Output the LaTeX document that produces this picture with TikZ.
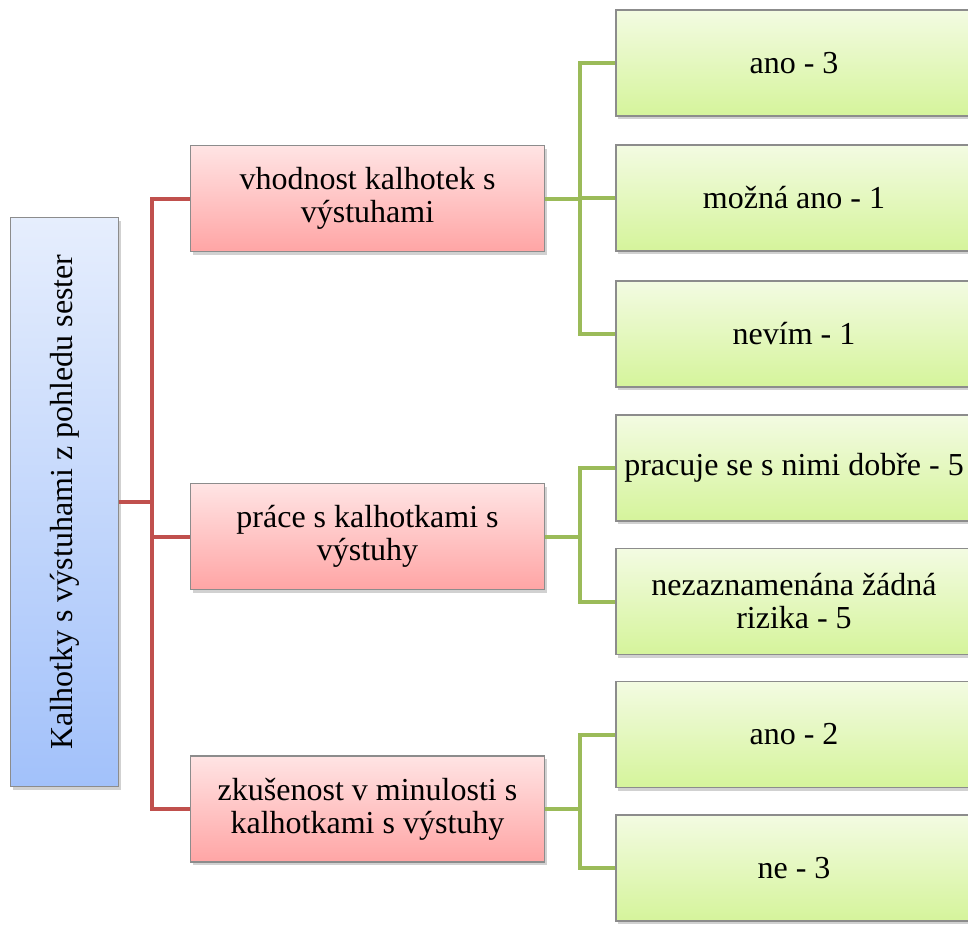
\documentclass[tikz,border=0pt]{standalone}
\usepackage{fontspec}
\setmainfont{Liberation Serif}
\newfontfamily\timesface{Liberation Serif}
\usetikzlibrary{shadows}
\definecolor{redline}{HTML}{C0504D}
\definecolor{greenline}{HTML}{9BBB59}
\definecolor{boxedge}{HTML}{8C8C8C}
\definecolor{pinktop}{HTML}{FFE4E4}
\definecolor{pinkbot}{HTML}{FFA5A5}
\definecolor{limetop}{HTML}{F3FBE2}
\definecolor{limebot}{HTML}{D5F49B}
\definecolor{bluetop}{HTML}{E6EEFD}
\definecolor{bluebot}{HTML}{A2C1FA}

\begin{document}
\begin{tikzpicture}[x=1pt,y=-1pt,
  box/.style={draw=boxedge,line width=1.2pt,inner sep=2pt,align=center,font=\timesface\fontsize{32}{33}\selectfont,
    drop shadow={shadow xshift=2pt,shadow yshift=-3pt,opacity=.3,fill=black!60}},
  topic/.style={box,top color=bluetop,bottom color=bluebot,minimum width=108pt,minimum height=569pt},
  cat/.style={box,top color=pinktop,bottom color=pinkbot,minimum width=354pt,minimum height=106pt},
  leaf/.style={box,top color=limetop,bottom color=limebot,minimum width=356pt,minimum height=106pt},
  rl/.style={redline,line width=4pt},
  gl/.style={greenline,line width=4pt}]
\useasboundingbox (0,0) rectangle (968,931);
% root
\node[topic] (root) at (64.5,502){\rotatebox{90}{Kalhotky s výstuhami z pohledu sester}};
% middle level
\node[cat] (c1) at (367.5,198.5){vhodnost kalhotek s\\výstuhami};
\node[cat] (c2) at (367.5,536.5){práce s kalhotkami s\\výstuhy};
\node[cat] (c3) at (367.5,809){zkušenost v minulosti s\\kalhotkami s výstuhy};
% answers
\node[leaf] (a1) at (794,63){ano - 3};
\node[leaf] (a2) at (794,198){možná ano - 1};
\node[leaf] (a3) at (794,334){nevím - 1};
\node[leaf] (a4) at (794,468){pracuje se s nimi dobře - 5};
\node[leaf] (a5) at (794,601.5){nezaznamenána žádná\\rizika - 5};
\node[leaf] (a6) at (794,734.5){ano - 2};
\node[leaf] (a7) at (794,868){ne - 3};
% connectors
\coordinate (rj) at (152,502);
\coordinate (gj) at (580,0);
\draw[rl] (root.east) -- (rj);
\draw[rl] (rj) |- (c1.west);
\draw[rl] (rj) |- (c2.west);
\draw[rl] (rj) |- (c3.west);
\draw[gl] (c1.east) -- (c1.east -| gj) |- (a1.west);
\draw[gl] (c1.east -| gj) |- (a2.west);
\draw[gl] (c1.east -| gj) |- (a3.west);
\draw[gl] (c2.east) -- (c2.east -| gj) |- (a4.west);
\draw[gl] (c2.east -| gj) |- (a5.west);
\draw[gl] (c3.east) -- (c3.east -| gj) |- (a6.west);
\draw[gl] (c3.east -| gj) |- (a7.west);
\end{tikzpicture}
\end{document}
